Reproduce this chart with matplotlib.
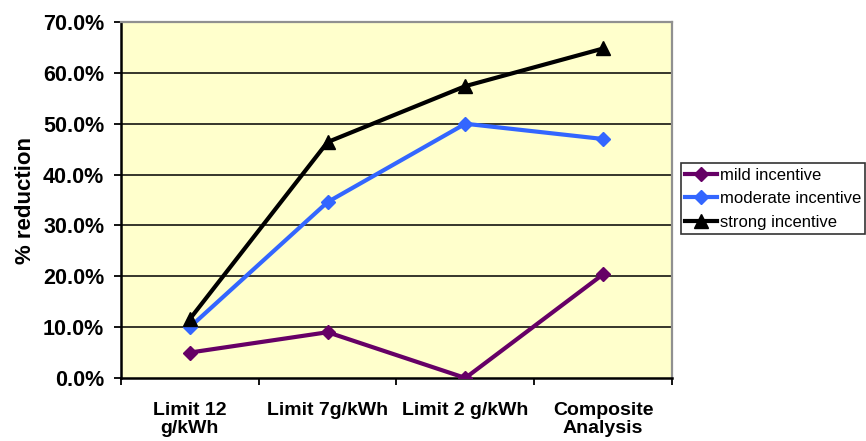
import matplotlib
matplotlib.use("Agg")
import matplotlib.pyplot as plt
from matplotlib.ticker import FixedLocator, PercentFormatter

plt.rcParams['font.family'] = ['Liberation Sans', 'DejaVu Sans']

categories = ["Limit 12\ng/kWh", "Limit 7g/kWh", "Limit 2 g/kWh", "Composite\nAnalysis"]
mild = [5.0, 9.0, 0.0, 20.4]
moderate = [10.0, 34.6, 50.0, 47.0]
strong = [11.6, 46.4, 57.4, 64.8]
series_names = ["mild incentive", "moderate incentive", "strong incentive"]

fig = plt.figure(figsize=(8.66, 4.41), dpi=100)
ax = fig.add_axes([0.1397, 0.1429, 0.776 - 0.1397, 0.950 - 0.1429])
ax.set_facecolor("#FFFFCC")

x = [i + 0.5 for i in range(len(categories))]
ax.plot(x, mild, color="#660066", lw=3, marker="D", ms=7.5, label=series_names[0], zorder=3)
ax.plot(x, moderate, color="#3366FF", lw=3, marker="D", ms=7.5, label=series_names[1], zorder=3)
ax.plot(x, strong, color="black", lw=3, marker="^", ms=9.5, label=series_names[2], zorder=4)

ax.set_xlim(0, len(categories))
ax.set_ylim(0, 70)
ax.yaxis.set_major_locator(FixedLocator([0, 10, 20, 30, 40, 50, 60, 70]))
ax.yaxis.set_major_formatter(PercentFormatter(decimals=1))
for yv in range(10, 70, 10):
    ax.axhline(yv, color="black", lw=1.1, zorder=1)

ax.set_xticks(x)
ax.set_xticklabels(categories, fontweight="bold", fontsize=14, linespacing=1.12)
ax.tick_params(axis="x", which="major", length=0, pad=17)
ax.set_xticks(range(len(categories) + 1), minor=True)
ax.tick_params(axis="x", which="minor", length=5, width=1.3, color="black")
ax.tick_params(axis="y", length=5, width=1.3, labelsize=15.5, pad=7)
for lbl in ax.get_yticklabels():
    lbl.set_fontweight("bold")

ax.spines["left"].set_color("black")
ax.spines["left"].set_linewidth(1.8)
ax.spines["bottom"].set_color("black")
ax.spines["bottom"].set_linewidth(1.8)
ax.spines["top"].set_color("#909090")
ax.spines["top"].set_linewidth(1.6)
ax.spines["right"].set_color("#909090")
ax.spines["right"].set_linewidth(1.6)

ax.set_ylabel("% reduction", fontweight="bold", fontsize=16)
ax.yaxis.set_label_coords(-0.155, 0.5)

leg = fig.legend(loc="upper left", bbox_to_anchor=(0.786, 0.630), fontsize=12,
                 frameon=True, fancybox=False, edgecolor="black", handlelength=1.9,
                 handletextpad=0.15, borderpad=0.28, labelspacing=0.5, borderaxespad=0)
leg.get_frame().set_linewidth(1.2)

fig.savefig("out.png", dpi=100)
